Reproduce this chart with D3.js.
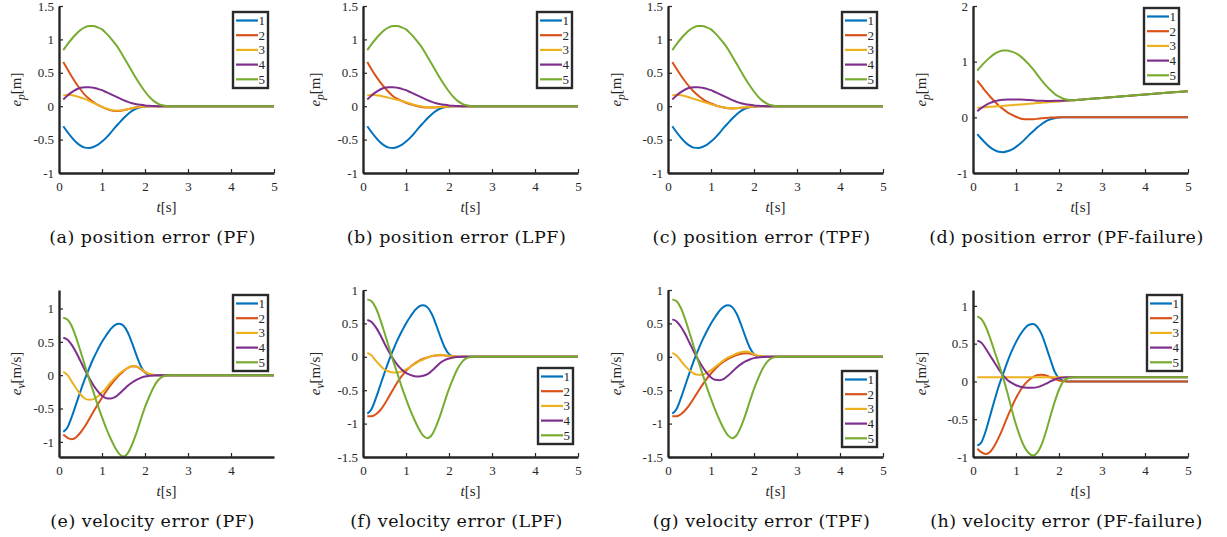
<!DOCTYPE html>
<html><head><meta charset="utf-8">
<script src="https://cdn.jsdelivr.net/npm/d3@7"></script>
<style>body{margin:0;background:#fff} svg{display:block}</style>
</head><body><svg id="c" width="1227" height="537"></svg>
<script>
// ---------- data ----------
const T = [0.1,0.2,0.3,0.4,0.5,0.6,0.7,0.8,0.9,1.0,1.1,1.2,1.3,1.4,1.5,1.6,1.7,1.8,1.9,2.0,2.1,2.2,2.3,2.4,2.5,2.6,3,4,5];
const seriesNames = ["1","2","3","4","5"];
const seriesColors = ["#0072BD","#D95319","#EDB120","#7E2F8E","#77AC30"];
const xTicks = [0,1,2,3,4,5];
const xTicksE = [0,1,2,3,4];
const yTicksPos = [-1,-0.5,0,0.5,1,1.5];
const yTicksPosFail = [-1,0,1,2];
const yTicksVel = [-1,-0.5,0,0.5,1];
const yTicksVel2 = [-1.5,-1,-0.5,0,0.5,1];
const captions = ["(a) position error (PF)","(b) position error (LPF)","(c) position error (TPF)","(d) position error (PF-failure)",
  "(e) velocity error (PF)","(f) velocity error (LPF)","(g) velocity error (TPF)","(h) velocity error (PF-failure)"];

// position errors
const posBlue   = [-0.30,-0.39,-0.47,-0.54,-0.59,-0.62,-0.625,-0.61,-0.58,-0.53,-0.47,-0.40,-0.32,-0.25,-0.18,-0.12,-0.07,-0.035,-0.015,-0.005,0,0,0,0,0,0,0,0,0];
const posPurple = [0.10,0.16,0.21,0.25,0.275,0.285,0.285,0.275,0.26,0.24,0.21,0.18,0.15,0.12,0.09,0.065,0.045,0.03,0.02,0.012,0.007,0.003,0.001,0,0,0,0,0,0];
const posGreen  = [0.84,0.93,1.01,1.08,1.14,1.18,1.20,1.20,1.18,1.15,1.09,1.02,0.94,0.85,0.74,0.63,0.52,0.41,0.31,0.22,0.14,0.08,0.04,0.015,0.004,0,0,0,0];
const posOrangePF  = [0.66,0.55,0.44,0.34,0.25,0.17,0.11,0.06,0.02,-0.01,-0.04,-0.06,-0.07,-0.07,-0.06,-0.045,-0.03,-0.017,-0.008,-0.003,0,0,0,0,0,0,0,0,0];
const posYellowPF  = [0.16,0.17,0.165,0.15,0.13,0.11,0.08,0.05,0.02,-0.01,-0.035,-0.055,-0.065,-0.065,-0.058,-0.045,-0.032,-0.02,-0.01,-0.004,0,0,0,0,0,0,0,0,0];
const posOrangeLPF = [0.66,0.55,0.45,0.36,0.28,0.21,0.15,0.11,0.08,0.05,0.03,0.01,-0.005,-0.015,-0.02,-0.02,-0.017,-0.012,-0.007,-0.003,0,0,0,0,0,0,0,0,0];
const posYellowLPF = [0.16,0.17,0.165,0.155,0.14,0.125,0.11,0.095,0.08,0.06,0.04,0.02,0.005,-0.008,-0.015,-0.018,-0.016,-0.012,-0.007,-0.003,0,0,0,0,0,0,0,0,0];
const posOrangeTPF = [0.66,0.56,0.46,0.37,0.29,0.22,0.16,0.11,0.07,0.04,0.015,-0.005,-0.02,-0.03,-0.033,-0.03,-0.025,-0.018,-0.01,-0.004,0,0,0,0,0,0,0,0,0];
const posYellowTPF = [0.16,0.17,0.165,0.15,0.13,0.11,0.09,0.07,0.05,0.03,0.01,-0.005,-0.018,-0.026,-0.03,-0.028,-0.022,-0.015,-0.008,-0.003,0,0,0,0,0,0,0,0,0];
const posOrangeFail = [0.66,0.56,0.46,0.37,0.29,0.21,0.15,0.09,0.05,0.01,-0.02,-0.033,-0.036,-0.033,-0.026,-0.018,-0.011,-0.005,-0.002,0,0,0,0,0,0,0,0,0,0];
const posYellowFail = [0.170,0.176,0.182,0.188,0.195,0.201,0.207,0.213,0.219,0.225,0.231,0.237,0.244,0.250,0.256,0.262,0.268,0.274,0.280,0.286,0.293,0.299,0.305,0.311,0.317,0.323,0.348,0.409,0.470];
const posPurpleFail = [0.11,0.17,0.22,0.26,0.29,0.305,0.315,0.32,0.322,0.322,0.32,0.316,0.31,0.305,0.30,0.297,0.295,0.295,0.296,0.298,0.300,0.302,0.305,0.311,0.317,0.323,0.348,0.409,0.470];
const posGreenFail  = [0.84,0.93,1.01,1.08,1.14,1.18,1.20,1.20,1.18,1.15,1.10,1.03,0.95,0.86,0.76,0.66,0.57,0.49,0.42,0.37,0.335,0.315,0.308,0.311,0.317,0.323,0.348,0.409,0.470];

// velocity errors
const velBlue   = [-0.85,-0.78,-0.62,-0.43,-0.24,-0.06,0.10,0.25,0.38,0.50,0.60,0.69,0.75,0.77,0.74,0.64,0.48,0.30,0.14,0.04,0.005,0,0,0,0,0,0,0,0];
const velGreen  = [0.86,0.83,0.73,0.56,0.36,0.15,-0.06,-0.25,-0.45,-0.63,-0.80,-0.95,-1.08,-1.18,-1.22,-1.17,-1.04,-0.87,-0.67,-0.48,-0.32,-0.18,-0.08,-0.025,-0.005,0,0,0,0];
const velPurple = [0.56,0.53,0.45,0.34,0.21,0.08,-0.04,-0.15,-0.24,-0.31,-0.345,-0.35,-0.33,-0.28,-0.22,-0.16,-0.11,-0.07,-0.04,-0.02,-0.01,-0.004,0,0,0,0,0,0,0];
const velOrangePF  = [-0.89,-0.94,-0.96,-0.93,-0.86,-0.77,-0.66,-0.55,-0.44,-0.34,-0.24,-0.15,-0.07,0.0,0.06,0.11,0.135,0.13,0.09,0.045,0.015,0.003,0,0,0,0,0,0,0];
const velYellowPF  = [0.05,0.0,-0.10,-0.20,-0.29,-0.35,-0.37,-0.36,-0.32,-0.26,-0.19,-0.11,-0.04,0.02,0.07,0.11,0.135,0.13,0.10,0.05,0.02,0.005,0,0,0,0,0,0,0];
const velOrangeLPF = [-0.89,-0.89,-0.86,-0.80,-0.71,-0.60,-0.49,-0.38,-0.29,-0.21,-0.15,-0.10,-0.06,-0.03,-0.01,0.01,0.02,0.025,0.02,0.012,0.005,0,0,0,0,0,0,0,0];
const velYellowLPF = [0.06,0.02,-0.06,-0.13,-0.19,-0.22,-0.235,-0.235,-0.22,-0.19,-0.15,-0.11,-0.07,-0.04,-0.01,0.01,0.025,0.03,0.025,0.015,0.006,0,0,0,0,0,0,0,0];
const velPurpleLPF = [0.55,0.52,0.44,0.33,0.20,0.08,-0.03,-0.12,-0.19,-0.24,-0.27,-0.29,-0.295,-0.285,-0.26,-0.21,-0.15,-0.09,-0.05,-0.025,-0.01,-0.004,-0.001,0,0,0,0,0,0];
const velOrangeTPF = [-0.89,-0.89,-0.86,-0.80,-0.72,-0.62,-0.52,-0.42,-0.33,-0.25,-0.18,-0.12,-0.07,-0.03,0.0,0.025,0.045,0.055,0.05,0.03,0.012,0.003,0,0,0,0,0,0,0];
const velYellowTPF = [0.06,0.02,-0.06,-0.14,-0.20,-0.25,-0.27,-0.27,-0.24,-0.20,-0.15,-0.10,-0.05,-0.01,0.02,0.05,0.07,0.08,0.07,0.04,0.015,0.003,0,0,0,0,0,0,0];
const velBlueFail   = [-0.85,-0.80,-0.65,-0.45,-0.25,-0.06,0.10,0.26,0.40,0.52,0.62,0.70,0.75,0.76,0.72,0.62,0.46,0.29,0.13,0.04,0.01,0,0,0,0,0,0,0,0];
const velOrangeFail = [-0.89,-0.94,-0.96,-0.93,-0.85,-0.74,-0.61,-0.47,-0.34,-0.22,-0.12,-0.04,0.02,0.06,0.085,0.09,0.08,0.055,0.03,0.012,0.004,0,0,0,0,0,0,0,0];
const velYellowFail = [0.055,0.055,0.055,0.055,0.055,0.055,0.055,0.055,0.055,0.055,0.055,0.055,0.055,0.055,0.055,0.055,0.055,0.055,0.055,0.055,0.055,0.055,0.055,0.055,0.055,0.055,0.055,0.055,0.055];
const velPurpleFail = [0.54,0.51,0.43,0.34,0.25,0.16,0.08,0.02,-0.02,-0.05,-0.07,-0.08,-0.085,-0.085,-0.075,-0.055,-0.03,0.0,0.025,0.045,0.053,0.055,0.055,0.055,0.055,0.055,0.055,0.055,0.055];
const velGreenFail  = [0.86,0.82,0.72,0.57,0.40,0.23,0.05,-0.15,-0.37,-0.57,-0.74,-0.87,-0.95,-0.98,-0.94,-0.83,-0.66,-0.46,-0.27,-0.11,0.0,0.04,0.052,0.055,0.055,0.055,0.055,0.055,0.055];

// ---------- layout ----------
const colLeft = [59, 363, 668, 973];
const rowTop = [6, 290];
const W = 215, H = 167;
const ylabX = [21, 320, 621, 926];

const panels = [
  {col:0,row:0,series:[posBlue,posOrangePF,posYellowPF,posPurple,posGreen],ydom:[-1,1.5],yt:yTicksPos,xt:xTicks,kind:"p",leg:[233,12]},
  {col:1,row:0,series:[posBlue,posOrangeLPF,posYellowLPF,posPurple,posGreen],ydom:[-1,1.5],yt:yTicksPos,xt:xTicks,kind:"p",leg:[537,12]},
  {col:2,row:0,series:[posBlue,posOrangeTPF,posYellowTPF,posPurple,posGreen],ydom:[-1,1.5],yt:yTicksPos,xt:xTicks,kind:"p",leg:[842,12]},
  {col:3,row:0,series:[posBlue,posOrangeFail,posYellowFail,posPurpleFail,posGreenFail],ydom:[-1,2],yt:yTicksPosFail,xt:xTicks,kind:"p",leg:[1144,8]},
  {col:0,row:1,series:[velBlue,velOrangePF,velYellowPF,velPurple,velGreen],ydom:[-1.2275,1.2775],yt:yTicksVel,xt:xTicksE,kind:"v",leg:[233,295]},
  {col:1,row:1,series:[velBlue,velOrangeLPF,velYellowLPF,velPurpleLPF,velGreen],ydom:[-1.5,1],yt:yTicksVel2,xt:xTicks,kind:"v",leg:[538,368]},
  {col:2,row:1,series:[velBlue,velOrangeTPF,velYellowTPF,velPurple,velGreen],ydom:[-1.5,1],yt:yTicksVel2,xt:xTicks,kind:"v",leg:[842,371]},
  {col:3,row:1,series:[velBlueFail,velOrangeFail,velYellowFail,velPurpleFail,velGreenFail],ydom:[-1,1.21],yt:yTicksVel,xt:xTicks,kind:"v",leg:[1147,295]}
];

const svg = d3.select("#c");
const AX = "#262626";
const tickFont = "'Liberation Serif', 'Times New Roman', Times, serif";

panels.forEach((p, k) => {
  const left = colLeft[p.col], top = rowTop[p.row];
  const x = d3.scaleLinear().domain([0,5]).range([left, left + W]);
  const y = d3.scaleLinear().domain(p.ydom).range([top + H, top]);
  const g = svg.append("g");

  const line = d3.line().x((d,j) => x(T[j])).y(d => y(d)).curve(d3.curveMonotoneX);
  p.series.forEach((s, i) => {
    g.append("path").datum(s).attr("fill","none").attr("stroke",seriesColors[i])
      .attr("stroke-width",2).attr("stroke-linejoin","round").attr("stroke-linecap","butt")
      .attr("d", line);
  });

  const xa = g.append("g").attr("transform",`translate(0,${top+H})`)
    .call(d3.axisBottom(x).tickValues(p.xt).tickSizeInner(-4).tickSizeOuter(0).tickPadding(9).tickFormat(d => String(d)));
  const ya = g.append("g").attr("transform",`translate(${left},0)`)
    .call(d3.axisLeft(y).tickValues(p.yt).tickSizeInner(-4).tickSizeOuter(0).tickPadding(5).tickFormat(d => String(d)));
  [xa, ya].forEach(a => {
    a.attr("font-family", tickFont).attr("font-size", 13);
    a.select(".domain").attr("stroke",AX).attr("stroke-width",2.4);
    a.selectAll(".tick line").attr("stroke",AX).attr("stroke-width",1.2);
    a.selectAll("text").attr("fill",AX).attr("font-family",tickFont).attr("font-size",13);
  });

  // x label
  const xl = g.append("text").attr("x", left + W/2).attr("y", top + H + 38.5).attr("text-anchor","middle")
    .attr("fill",AX).attr("font-family",tickFont).attr("font-size",15);
  xl.append("tspan").attr("font-style","italic").text("t");
  xl.append("tspan").text("[s]");

  // y label
  const yl = g.append("text").attr("transform",`translate(${ylabX[p.col]},${top + H/2}) rotate(-90)`)
    .attr("text-anchor","middle").attr("fill",AX).attr("font-family",tickFont).attr("font-size",15);
  yl.append("tspan").attr("font-style","italic").text("e");
  yl.append("tspan").attr("font-style","italic").attr("dy",4).attr("font-size",11.5).text(p.kind);
  yl.append("tspan").attr("dy",-4).text(p.kind === "p" ? "[m]" : "[m/s]");

  // legend
  const [lx, ly] = p.leg;
  const lg = g.append("g");
  lg.append("rect").attr("x",lx).attr("y",ly).attr("width",35).attr("height",76)
    .attr("fill","#fff").attr("stroke","#2a2a2a").attr("stroke-width",2.4);
  seriesNames.forEach((n, i) => {
    const yy = ly + 8.5 + i * 14.7;
    lg.append("line").attr("x1",lx+3).attr("x2",lx+25).attr("y1",yy).attr("y2",yy)
      .attr("stroke",seriesColors[i]).attr("stroke-width",2.2);
    lg.append("text").attr("x",lx+25.5).attr("y",yy).attr("dy","0.35em").attr("fill",AX)
      .attr("font-family",tickFont).attr("font-size",13).text(n);
  });

  // caption
  g.append("text").attr("x", left + W/2 - 14).attr("y", top + H + 70).attr("text-anchor","middle")
    .attr("fill","#111").attr("font-family","'DejaVu Serif', serif").attr("font-size",17.5)
    .attr("letter-spacing",0.5)
    .text(captions[k]);
});
</script>
</body></html>
